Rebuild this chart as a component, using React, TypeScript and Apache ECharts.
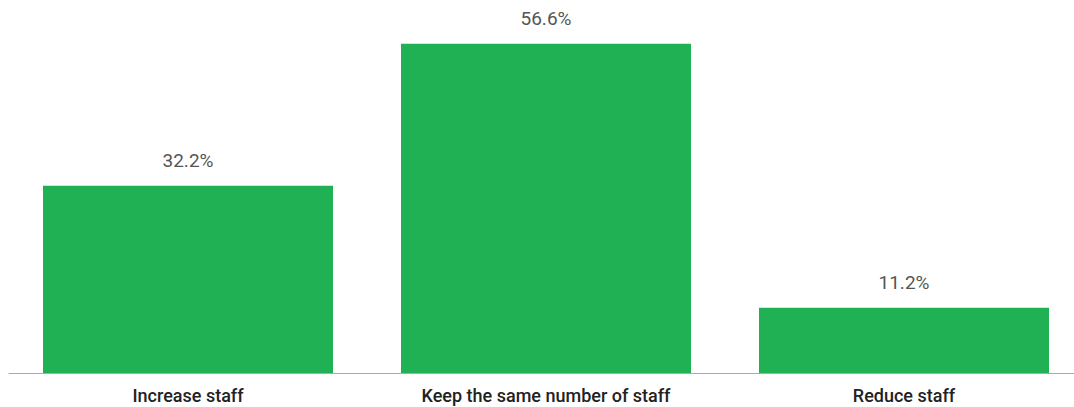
import React, { useEffect, useRef } from "react";
import * as echarts from "echarts";

const categories = ["Increase staff", "Keep the same number of staff", "Reduce staff"];
const values = [32.2, 56.6, 11.2];

export default function App() {
  const ref = useRef<HTMLDivElement>(null);
  useEffect(() => {
    if (!ref.current) return;
    const chart = echarts.init(ref.current, undefined, { renderer: "svg" });
    chart.setOption({
      animation: false,
      grid: { left: 9, right: 0, top: 24, height: 349 },
      xAxis: {
        type: "category",
        data: categories,
        axisLine: { lineStyle: { color: "#aaaaaa", width: 1 } },
        axisTick: { show: false },
        axisLabel: {
          interval: 0,
          color: "#222222",
          fontSize: 18,
          fontWeight: 500,
          fontFamily: "Roboto, sans-serif",
          margin: 13,
        },
      },
      yAxis: {
        type: "value",
        min: 0,
        max: 60,
        show: false,
        splitLine: { show: false },
      },
      series: [
        {
          type: "bar",
          data: values,
          barCategoryGap: "19%",
          itemStyle: { color: "#1fb153" },
          label: {
            show: true,
            position: "top",
            distance: 16,
            formatter: (p: any) => p.value.toFixed(1) + "%",
            color: "#555555",
            fontSize: 19,
            fontFamily: "Roboto, sans-serif",
          },
        },
      ],
    });
    return () => chart.dispose();
  }, []);
  return (
    <div
      style={{ position: "absolute", left: 0, top: 0, width: 1074, height: 407, overflow: "hidden" }}
    >
      <div ref={ref} style={{ width: 1083, height: 407 }} />
    </div>
  );
}
